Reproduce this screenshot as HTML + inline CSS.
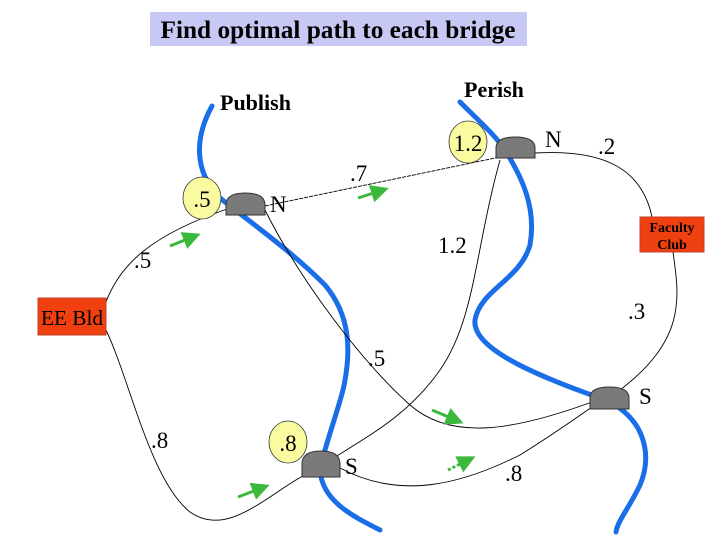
<!DOCTYPE html>
<html><head><meta charset="utf-8"><style>
html,body{margin:0;padding:0;background:#fff;}
svg{display:block;font-family:"Liberation Serif",serif;}
</style></head><body>
<svg width="720" height="540" viewBox="0 0 720 540" xmlns="http://www.w3.org/2000/svg">
<defs>
<marker id="ah" markerWidth="6" markerHeight="6" refX="4" refY="3" orient="auto" markerUnits="strokeWidth">
<path d="M0,0 L6,3 L0,6 z" fill="#3cb83c"/></marker>
</defs>
<rect x="150" y="12" width="377" height="34" fill="#c8c8f4"/>
<text x="338" y="38" text-anchor="middle" font-size="25" font-weight="bold" textLength="355" lengthAdjust="spacingAndGlyphs">Find optimal path to each bridge</text>
<text x="220" y="110" font-size="22" font-weight="bold">Publish</text>
<text x="464" y="97" font-size="22" font-weight="bold">Perish</text>

<g fill="none" stroke="#1a6fe8" stroke-width="5" stroke-linecap="round">
<path d="M212,106 C196,135 192,170 220,198 C250,222 290,250 325,285 C350,315 352,350 343,390 C335,420 325,445 320,470 C322,500 350,515 380,530"/>
<path d="M460,102 C480,122 495,135 505,150 C520,175 537,205 530,245 C520,280 480,290 475,320 C472,345 520,370 600,398 C640,412 655,450 640,485 C628,510 618,520 616,532"/>
</g>

<g fill="none" stroke="#000" stroke-width="0.9">
<path d="M106,302 C120,265 150,235 230,208"/>
<path d="M265,206 L500,157" stroke-dasharray="4,1"/>
<path d="M535,153 C590,150 640,160 652,217"/>
<path d="M673,252 C680,300 685,340 620,390"/>
<path d="M500,160 C475,250 475,320 440,370 C405,420 360,440 318,468"/>
<path d="M265,210 C300,280 360,360 410,405 C450,440 510,432 592,402"/>
<path d="M106,330 C130,380 150,480 190,512 C230,540 270,490 318,468"/>
<path d="M340,468 C400,500 460,485 520,455 C560,430 580,415 595,405"/>
</g>

<g fill="#7a7a7a" stroke="#333" stroke-width="1">
<path d="M226,215 L226,205 Q226,193 245,193 Q265,193 265,205 L265,215 Z"/>
<path d="M496,158 L496,148 Q496,137 515,137 Q535,137 535,148 L535,158 Z"/>
<path d="M302,477 L302,464 Q302,451 321,451 Q340,451 340,464 L340,477 Z"/>
<path d="M590,409 L590,398 Q590,387 609,387 Q629,387 629,398 L629,409 Z"/>
</g>

<g fill="#fafaa0" stroke="#333" stroke-width="0.8">
<ellipse cx="202" cy="198" rx="19" ry="21"/>
<ellipse cx="468" cy="142" rx="19" ry="21"/>
<ellipse cx="288" cy="442" rx="19" ry="21"/>
</g>
<g font-size="23" text-anchor="middle">
<text x="202" y="207">.5</text>
<text x="468" y="151">1.2</text>
<text x="288" y="451">.8</text>
</g>

<rect x="38" y="298" width="68" height="37" fill="#f04010" stroke="#c04030"/>
<text x="72" y="325" text-anchor="middle" font-size="21" textLength="62" lengthAdjust="spacingAndGlyphs">EE Bld</text>
<rect x="640" y="217" width="64" height="35" fill="#f04010" stroke="#c04030"/>
<text x="672" y="232" text-anchor="middle" font-size="14" font-weight="bold">Faculty</text>
<text x="672" y="249" text-anchor="middle" font-size="14" font-weight="bold">Club</text>

<g font-size="23">
<text x="270" y="212">N</text>
<text x="545" y="147">N</text>
<text x="345" y="474">S</text>
<text x="639" y="404">S</text>
<text x="350" y="181">.7</text>
<text x="598" y="154">.2</text>
<text x="438" y="253">1.2</text>
<text x="134" y="268">.5</text>
<text x="628" y="319">.3</text>
<text x="368" y="366">.5</text>
<text x="151" y="448">.8</text>
<text x="505" y="481">.8</text>
</g>

<g stroke="#3cb83c" stroke-width="3" fill="none">
<line x1="358" y1="198" x2="383" y2="190" marker-end="url(#ah)"/>
<line x1="170" y1="246" x2="195" y2="236" marker-end="url(#ah)"/>
<line x1="432" y1="410" x2="458" y2="421" marker-end="url(#ah)"/>
<line x1="238" y1="497" x2="264" y2="487" marker-end="url(#ah)"/>
<line x1="448" y1="470" x2="470" y2="459" stroke-dasharray="3,2" marker-end="url(#ah)"/>
</g>
</svg>
</body></html>
